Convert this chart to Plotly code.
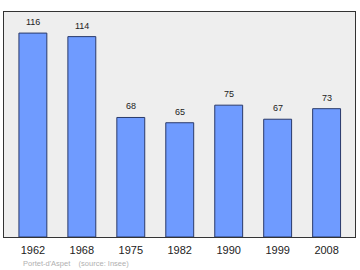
import plotly.graph_objects as go

years = ["1962", "1968", "1975", "1982", "1990", "1999", "2008"]
population = [116, 114, 68, 65, 75, 67, 73]

fig = go.Figure()
fig.add_trace(go.Bar(
    x=years, y=population, width=0.57,
    marker=dict(color="#6f9bff", line=dict(color="#2a3a6a", width=1)),
    hoverinfo="skip",
))

annots = [dict(x=i, y=v, text=str(v), showarrow=False, yanchor="bottom", yshift=4,
               xref="x", yref="y",
               font=dict(family="Liberation Sans", size=9, color="#222222"))
          for i, v in enumerate(population)]
annots.append(dict(text="Portet-d'Aspet &nbsp;&nbsp;&nbsp;(source: Insee)",
                   xref="paper", yref="paper", x=0.049, y=-0.116,
                   xanchor="left", yanchor="middle", showarrow=False,
                   font=dict(family="Liberation Sans", size=7.5, color="#b0b0b0")))

fig.update_layout(
    width=360, height=270,
    margin=dict(l=4, r=5, t=12, b=33),
    paper_bgcolor="white", plot_bgcolor="#eeeeee",
    showlegend=False, bargap=0.43,
    xaxis=dict(type="category", range=[-0.59, 6.58], showgrid=False,
               showline=True, linecolor="#333333", linewidth=1, mirror=True,
               ticks="outside", ticklen=3, tickcolor="rgba(0,0,0,0)",
               tickfont=dict(family="Liberation Sans", size=11, color="#222222")),
    yaxis=dict(range=[0, 128], showgrid=False, showticklabels=False,
               showline=True, linecolor="#333333", linewidth=1, mirror=True,
               zeroline=False, ticks=""),
    annotations=annots,
)

fig.write_html("out.html")
